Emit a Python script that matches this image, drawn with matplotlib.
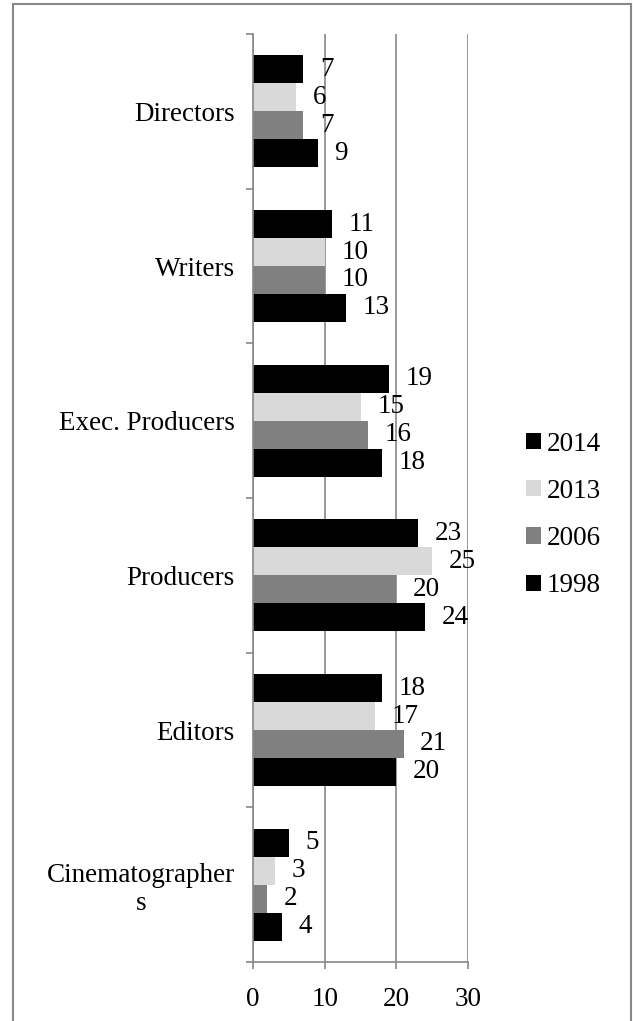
import matplotlib
matplotlib.use("Agg")
import matplotlib.pyplot as plt
from matplotlib.patches import Rectangle
import numpy as np

# data
categories = ["Directors", "Writers", "Exec. Producers", "Producers", "Editors",
              "Cinematographer\ns"]
years = ["2014", "2013", "2006", "1998"]
v2014 = [7, 11, 19, 23, 18, 5]
v2013 = [6, 10, 15, 25, 17, 3]
v2006 = [7, 10, 16, 20, 21, 2]
v1998 = [9, 13, 18, 24, 20, 4]
xticks = [0, 10, 20, 30]

series = [v2014, v2013, v2006, v1998]
colors = ["#000000", "#d9d9d9", "#808080", "#000000"]

plt.rcParams["font.family"] = ["Liberation Serif", "DejaVu Serif"]
FS = 19.5
GRAY = "#888888"

fig = plt.figure(figsize=(6.33, 10.21), dpi=100)
ax = fig.add_axes([253 / 633, 1 - 962 / 1021, (468 - 253) / 633, (962 - 34) / 1021])

y = np.arange(len(categories))
h = 0.181
handles = []
for k, (vals, col) in enumerate(zip(series, colors)):
    pos = y + (k - 1.5) * h
    b = ax.barh(pos, vals, height=h, color=col, zorder=3, label=years[k])
    handles.append(b)
    for p, v in zip(pos, vals):
        ax.annotate(str(v), (v, p), xytext=(12, 0), textcoords="offset points",
                    ha="left", va="center", fontsize=FS, zorder=4)

ax.set_xlim(0, 30)
ax.set_ylim(len(categories) - 0.5, -0.5)
ax.set_xticks(xticks)
ax.set_xticklabels([str(t) for t in xticks], fontsize=FS)
ax.set_yticks(y)
ax.set_yticklabels(categories, fontsize=FS)
for lab in ax.get_yticklabels():
    lab.set_multialignment("center")
ax.set_yticks(np.arange(len(categories) + 1) - 0.5, minor=True)

ax.tick_params(axis="y", which="major", length=0, pad=13)
ax.tick_params(axis="y", which="minor", length=5, width=1.2, color=GRAY, direction="out")
ax.tick_params(axis="x", which="major", length=5, width=1.2, color=GRAY, pad=13)

ax.grid(axis="x", color=GRAY, linewidth=1.2, zorder=0)
for s in ["top", "right"]:
    ax.spines[s].set_visible(False)
for s in ["left", "bottom"]:
    ax.spines[s].set_color(GRAY)
    ax.spines[s].set_linewidth(1.2)
    ax.spines[s].set_zorder(5)

leg = fig.legend(handles=handles, labels=years, loc="center left",
                 bbox_to_anchor=(526 / 633, 1 - 515 / 1021), frameon=False,
                 fontsize=FS, handlelength=0.55, handleheight=0.55,
                 handletextpad=0.22, labelspacing=0.82, borderpad=0, borderaxespad=0)

# outer chart border
fig.add_artist(Rectangle((13 / 633, -0.05), (631 - 13) / 633, 1.05 - 4 / 1021,
                         transform=fig.transFigure, fill=False,
                         edgecolor=GRAY, linewidth=1.5, clip_on=False))

fig.savefig("out.png", dpi=100)
